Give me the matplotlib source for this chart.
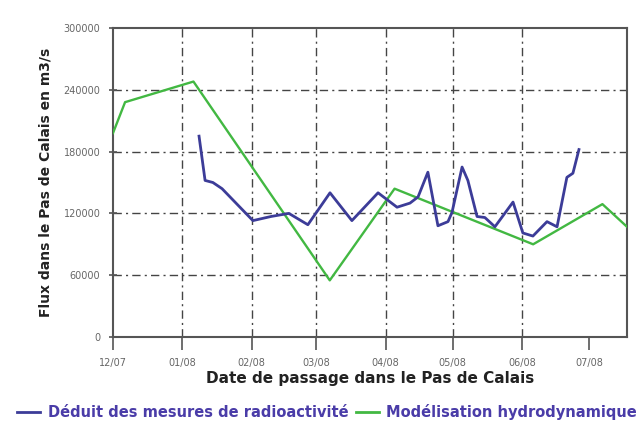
import matplotlib
matplotlib.use("Agg")
import matplotlib.pyplot as plt
from matplotlib.lines import Line2D

# Days counted from 1 Dec 2007
month_days = [0, 31, 62, 91, 122, 152, 183, 213]
month_labels = ["12/07", "01/08", "02/08", "03/08", "04/08", "05/08", "06/08", "07/08"]

# Deduced from radioactivity measurements
blue_days = [38.5, 41.2, 44.7, 48.8, 62.6, 70.7, 78.7, 87.2, 97.1, 106.9, 118.6,
             127.1, 132.9, 136.5, 140.9, 145.4, 149.9, 151.7, 156.2, 158.8, 162.9,
             166.4, 170.9, 179.0, 183.4, 187.9, 194.2, 198.7, 203.1, 205.8, 208.5]
blue_vals = [195000, 152000, 150000, 144000, 113000, 117000, 120000, 109000, 140000,
             113000, 140000, 126000, 130000, 136000, 160000, 108000, 112000, 121000,
             165000, 152000, 117000, 116000, 107000, 131000, 101000, 98000, 112000,
             107000, 155000, 159000, 182000]

# Hydrodynamic modelling
green_days = [0, 5.4, 36, 97, 126, 188, 219, 230]
green_vals = [198000, 228000, 248000, 55000, 144000, 90000, 129000, 107000]

y_ticks = [0, 60000, 120000, 180000, 240000, 300000]

plt.rcParams['font.family'] = ['DejaVu Sans']

fig = plt.figure(figsize=(6.42, 4.24), dpi=100)
ax = fig.add_axes([113/642, 1 - 337/424, (627-113)/642, (337-28)/424])

blue_c = '#3c3c98'
green_c = '#42b842'

ax.plot(green_days, green_vals, color=green_c, lw=1.7, zorder=3)
ax.plot(blue_days, blue_vals, color=blue_c, lw=2.0, zorder=4)

ax.set_xlim(0, 230)
ax.set_ylim(0, 300000)
ax.set_xticks(month_days)
ax.set_xticklabels(month_labels, fontsize=7, color='#666666')
ax.set_yticks(y_ticks)
ax.set_yticklabels([str(v) for v in y_ticks], fontsize=7, color='#666666')

ax.tick_params(axis='x', direction='out', length=9, width=1.2, color='#555555', pad=6)
ax.tick_params(axis='y', direction='inout', length=6, width=1.2, color='#555555', pad=6)

# grid lines (dash-dot), no vertical at 07/08
for v in y_ticks[1:-1]:
    ax.axhline(v, color='#444444', lw=1.0, ls=(0, (6, 3, 1.5, 3)), zorder=1)
for d in month_days[1:-1]:
    ax.axvline(d, color='#444444', lw=1.0, ls=(0, (6, 3, 1.5, 3)), zorder=1)

for s in ax.spines.values():
    s.set_color('#555555')
    s.set_linewidth(1.5)

ax.set_xlabel("Date de passage dans le Pas de Calais", fontsize=11, fontweight='bold',
              color='#222222', labelpad=2)
ax.set_ylabel("Flux dans le Pas de Calais en m3/s", fontsize=10, fontweight='bold',
              color='#222222', labelpad=8)

handles = [Line2D([], [], color=blue_c, lw=2), Line2D([], [], color=green_c, lw=2)]
leg = fig.legend(handles, ["Déduit des mesures de radioactivité", "Modélisation hydrodynamique"],
                 loc='center left', bbox_to_anchor=(17/642, 1 - 412/424), ncol=2, frameon=False,
                 prop={'size': 10.5, 'weight': 'bold'}, handlelength=1.6, handletextpad=0.5,
                 columnspacing=0.5, borderpad=0, borderaxespad=0)
for t in leg.get_texts():
    t.set_color('#4a3ca8')

fig.savefig("out.png", dpi=100)
